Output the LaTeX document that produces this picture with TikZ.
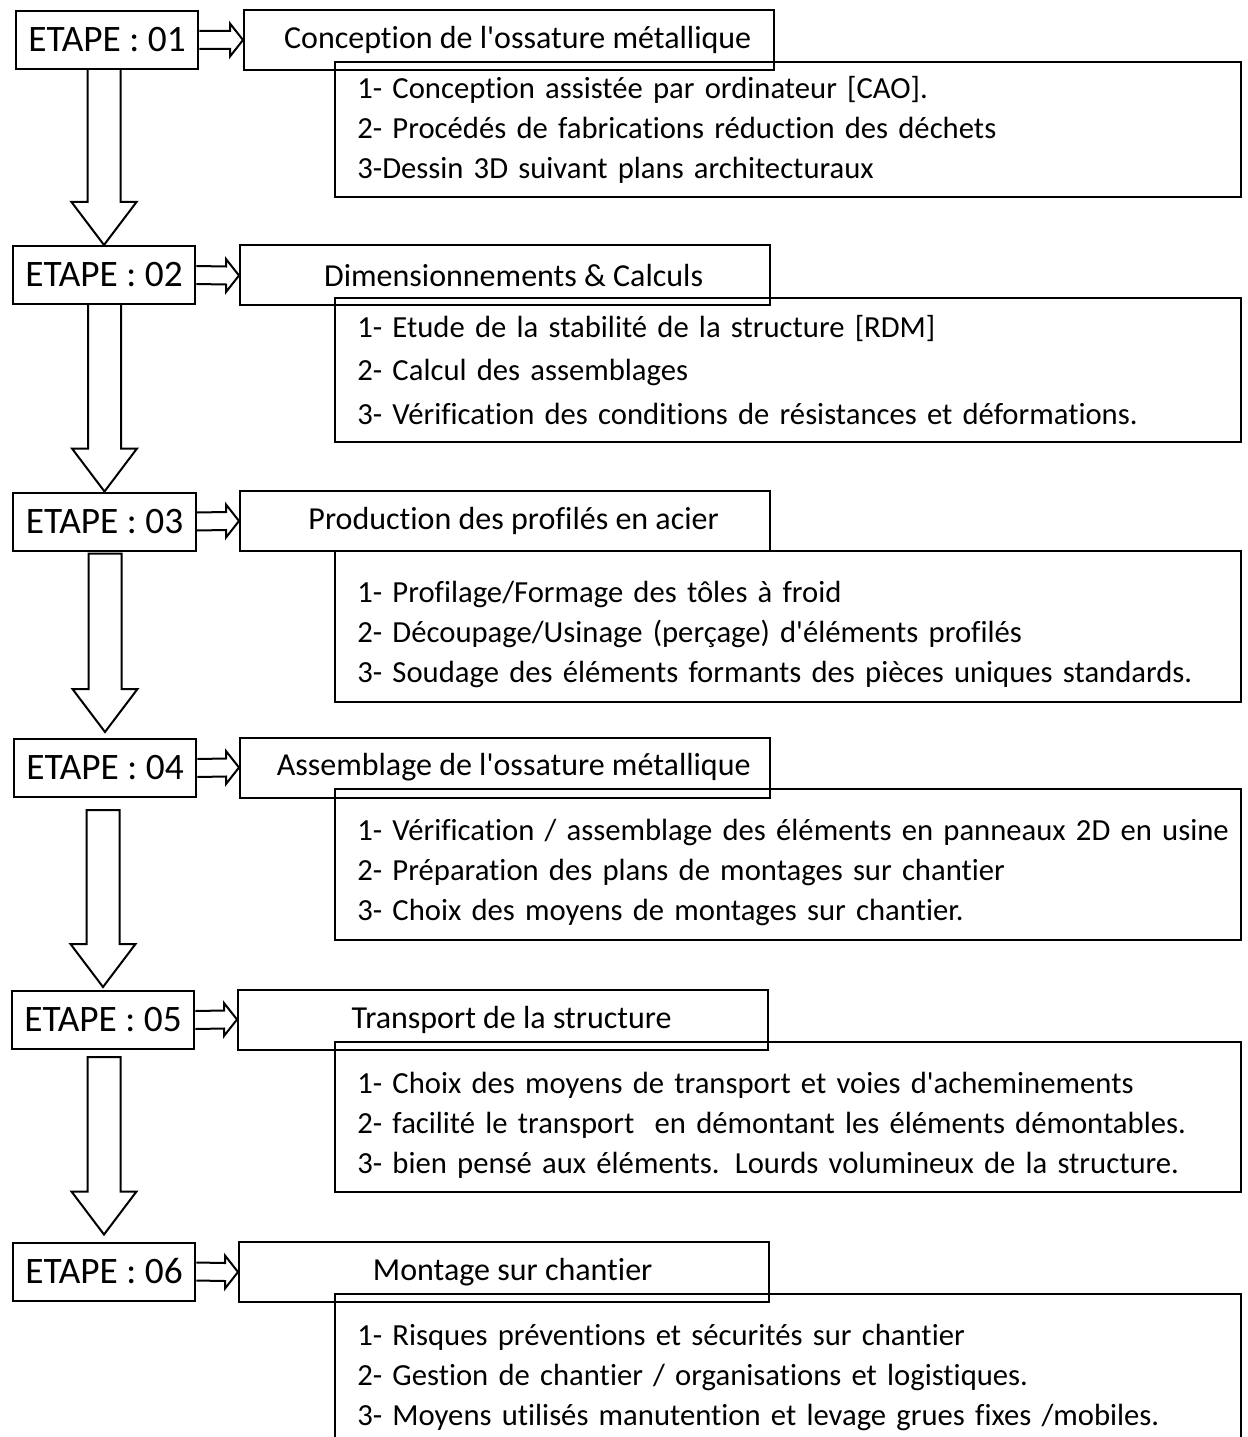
\documentclass[tikz,border=0pt]{standalone}
\usepackage{fontspec}
\setmainfont{Carlito}[Ligatures={TeX,NoCommon}]
\usetikzlibrary{calc}

\tikzset{every picture/.style={line width=1.5pt}}
\tikzset{
  stepbox/.style={draw, minimum width=137pt, minimum height=43.5pt, inner sep=0pt, font=\fontsize{28}{32}\selectfont},
  titlebox/.style={draw, minimum width=397.5pt, minimum height=45pt, inner sep=0pt, font=\fontsize{24}{30}\selectfont},
  detailbox/.style={draw, minimum width=679pt, text width=679pt, inner xsep=0pt, inner ysep=0pt, align=left, font=\fontsize{23}{30}\selectfont, execute at begin node={\leftskip=16.5pt}}
}

\begin{document}
\begin{tikzpicture}[x=0.75pt,y=0.75pt,yscale=-1,xscale=1]
\useasboundingbox (0,0) rectangle (1248,1437);

%Shape: Rectangle (steps)
\node[stepbox] (e1) at (107,40) {ETAPE : 01};
\node[stepbox] (e2) at (104,275) {ETAPE : 02};
\node[stepbox] (e3) at (104.5,521.5) {ETAPE : 03};
\node[stepbox] (e4) at (105,768) {ETAPE : 04};
\node[stepbox] (e5) at (103,1020) {ETAPE : 05};
\node[stepbox] (e6) at (104,1271.5) {ETAPE : 06};

%Shape: Rectangle (titles)
\node[titlebox] (t1) at (509,40) {\hspace*{13pt}Conception de l\textquotesingle ossature métallique};
\node[titlebox] (t2) at (505,275.5) {\hspace*{13pt}Dimensionnements \& Calculs};
\node[titlebox] (t3) at (505,521) {\hspace*{13pt}Production des profilés en acier};
\node[titlebox] (t4) at (505,767.5) {\hspace*{13pt}Assemblage de l\textquotesingle ossature métallique};
\node[titlebox] (t5) at (503,1019.5) {\hspace*{13pt}Transport de la structure};
\node[titlebox] (t6) at (504,1272) {\hspace*{13pt}Montage sur chantier};

%Shape: Rectangle (details)
\node[detailbox, minimum height=101.25pt] (d1) at (788,129.5) {1- Conception assistée par ordinateur [CAO].\\2- Procédés de fabrications réduction des déchets\\3-Dessin 3D suivant plans architecturaux};
\node[detailbox, minimum height=108pt, font=\fontsize{23}{32.5}\selectfont] (d2) at (788,370) {1- Etude de la stabilité de la structure [RDM]\\2- Calcul des assemblages\\3- Vérification des conditions de résistances et déformations.};
\node[detailbox, minimum height=113.25pt] (d3) at (788,626.5) {\\[-2pt]1- Profilage/Formage des tôles à froid\\2- Découpage/Usinage (perçage) d\textquotesingle éléments profilés\\3- Soudage des éléments formants des pièces uniques standards.};
\node[detailbox, minimum height=113.25pt] (d4) at (788,864.5) {\\[-2pt]1- Vérification / assemblage des éléments en panneaux 2D en usine\\2- Préparation des plans de montages sur chantier\\3- Choix des moyens de montages sur chantier.};
\node[detailbox, minimum height=112.5pt] (d5) at (788,1117) {\\[-2pt]1- Choix des moyens de transport et voies d\textquotesingle acheminements\\2- facilité le transport \ en démontant les éléments démontables.\\3- bien pensé aux éléments. Lourds volumineux de la structure.};
\node[detailbox, minimum height=112.5pt] (d6) at (788,1369) {\\[-2pt]1- Risques préventions et sécurités sur chantier\\2- Gestion de chantier / organisations et logistiques.\\3- Moyens utilisés manutention et levage grues fixes /mobiles.};

%Block Arrows (right)
\draw ($(e1.east)+(0,-9)$) -- ($(t1.west)+(-13,-9)$) -- ($(t1.west)+(-13,-16.5)$) -- (t1.west) -- ($(t1.west)+(-13,16.5)$) -- ($(t1.west)+(-13,9)$) -- ($(e1.east)+(0,9)$) ;
\draw ($(e2.east)+(0,-9)$) -- ($(t2.west)+(-13,-9)$) -- ($(t2.west)+(-13,-16.5)$) -- (t2.west) -- ($(t2.west)+(-13,16.5)$) -- ($(t2.west)+(-13,9)$) -- ($(e2.east)+(0,9)$) ;
\draw ($(e3.east)+(0,-9)$) -- ($(t3.west)+(-13,-9)$) -- ($(t3.west)+(-13,-16.5)$) -- (t3.west) -- ($(t3.west)+(-13,16.5)$) -- ($(t3.west)+(-13,9)$) -- ($(e3.east)+(0,9)$) ;
\draw ($(e4.east)+(0,-9)$) -- ($(t4.west)+(-13,-9)$) -- ($(t4.west)+(-13,-16.5)$) -- (t4.west) -- ($(t4.west)+(-13,16.5)$) -- ($(t4.west)+(-13,9)$) -- ($(e4.east)+(0,9)$) ;
\draw ($(e5.east)+(0,-9)$) -- ($(t5.west)+(-13,-9)$) -- ($(t5.west)+(-13,-16.5)$) -- (t5.west) -- ($(t5.west)+(-13,16.5)$) -- ($(t5.west)+(-13,9)$) -- ($(e5.east)+(0,9)$) ;
\draw ($(e6.east)+(0,-9)$) -- ($(t6.west)+(-13,-9)$) -- ($(t6.west)+(-13,-16.5)$) -- (t6.west) -- ($(t6.west)+(-13,16.5)$) -- ($(t6.west)+(-13,9)$) -- ($(e6.east)+(0,9)$) ;

%Block Arrows (down)
\draw ($(e1.south -| e2.north)+(-16.5,0)$) -- ($(e2.north)+(-16.5,-43)$) -- ($(e2.north)+(-32.5,-43)$) -- (e2.north) -- ($(e2.north)+(32.5,-43)$) -- ($(e2.north)+(16.5,-43)$) -- ($(e1.south -| e2.north)+(16.5,0)$) ;
\draw ($(e2.south -| e3.north)+(-16.5,0)$) -- ($(e3.north)+(-16.5,-43)$) -- ($(e3.north)+(-32.5,-43)$) -- (e3.north) -- ($(e3.north)+(32.5,-43)$) -- ($(e3.north)+(16.5,-43)$) -- ($(e2.south -| e3.north)+(16.5,0)$) ;
\draw ($(e3.south -| e4.north)+(-16.5,2)$) -- ($(e4.north)+(-16.5,-49)$) -- ($(e4.north)+(-32.5,-49)$) -- ($(e4.north)+(0,-6)$) -- ($(e4.north)+(32.5,-49)$) -- ($(e4.north)+(16.5,-49)$) -- ($(e3.south -| e4.north)+(16.5,2)$) -- cycle ;
\draw ($(e4.south -| e5.north)+(-16.5,12)$) -- ($(e5.north)+(-16.5,-46)$) -- ($(e5.north)+(-32.5,-46)$) -- ($(e5.north)+(0,-3)$) -- ($(e5.north)+(32.5,-46)$) -- ($(e5.north)+(16.5,-46)$) -- ($(e4.south -| e5.north)+(16.5,12)$) -- cycle ;
\draw ($(e5.south -| e6.north)+(-16.5,7)$) -- ($(e6.north)+(-16.5,-50)$) -- ($(e6.north)+(-32.5,-50)$) -- ($(e6.north)+(0,-7)$) -- ($(e6.north)+(32.5,-50)$) -- ($(e6.north)+(16.5,-50)$) -- ($(e5.south -| e6.north)+(16.5,7)$) -- cycle ;

\end{tikzpicture}
\end{document}
